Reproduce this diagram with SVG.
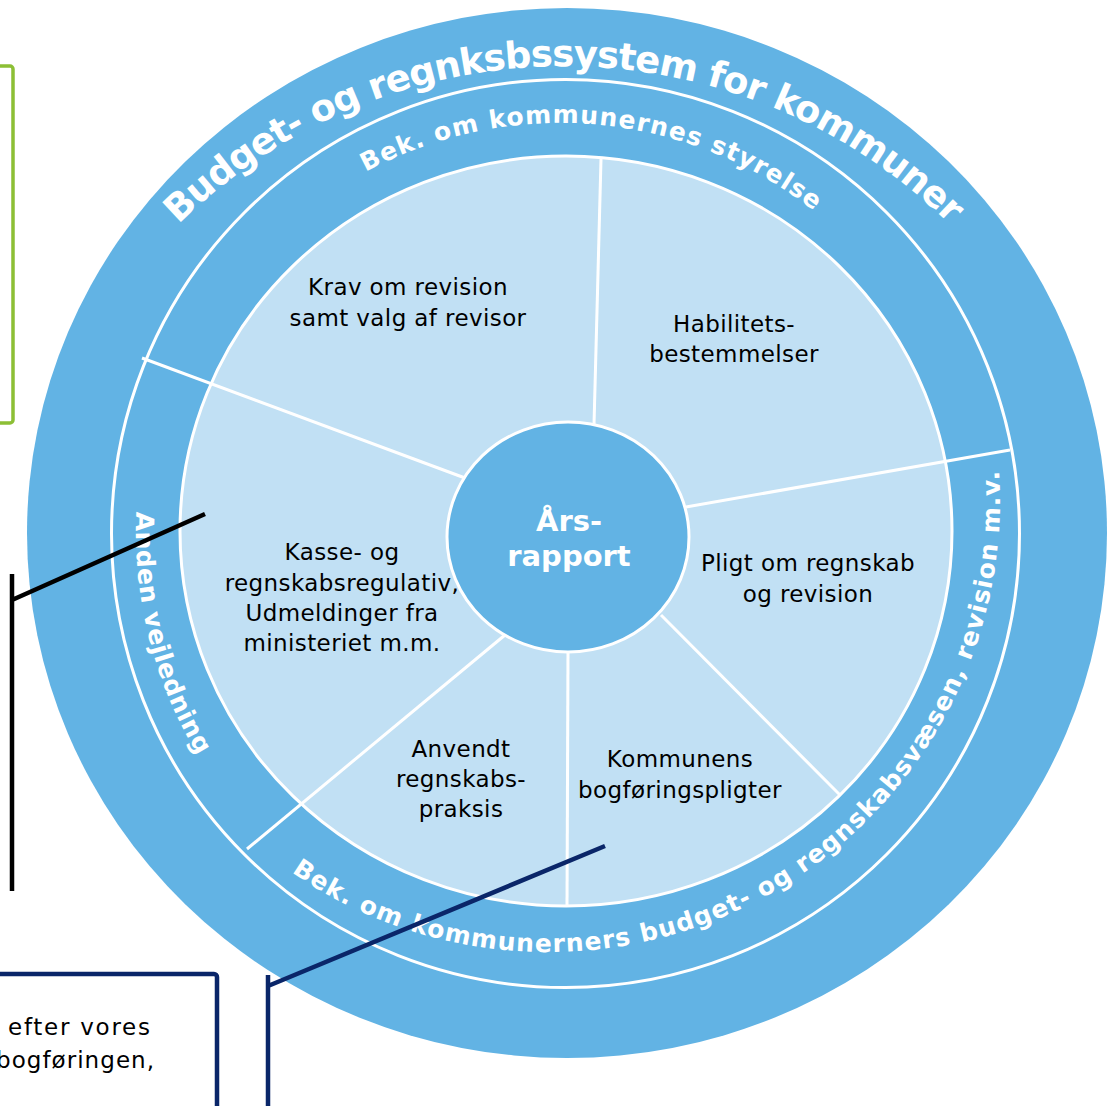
<svg xmlns="http://www.w3.org/2000/svg" width="1112" height="1106" viewBox="0 0 1112 1106">
<style>
.ring{fill:#62b3e4}
.wl{stroke:#fff;stroke-width:3;fill:none}
.lt{fill:#c1e0f4;stroke:#fff;stroke-width:3}
.st{font-family:"DejaVu Sans",Verdana,sans-serif;font-size:23px;letter-spacing:0.4px;fill:#000;text-anchor:middle}
.rt{font-family:"DejaVu Sans",Verdana,sans-serif;font-weight:bold;fill:#fff}
.cn{stroke-width:4.5;fill:none}
</style>
<defs>
<path id="pTitle" d="M 15 615 A 549 549 0 0 1 1113 615"/>
<path id="pTop" d="M 149 534 A 411 411 0 0 1 971 534"/>
<path id="pBottom" d="M 123.3 345.4 A 452 452 0 1 0 972.7 345.4"/>
<path id="pLeft" d="M 161.9 385.9 A 430 430 0 0 0 491.3 956.5"/>
</defs>
<rect width="1112" height="1106" fill="#fff"/>
<g id="wheel">
<ellipse class="ring" cx="567" cy="533" rx="540" ry="525"/>
<circle class="wl" cx="565.5" cy="533.5" r="454"/>
<ellipse class="lt" cx="566" cy="531" rx="386" ry="375"/>
<g class="wl">
<line x1="465" y1="478" x2="142" y2="358"/>
<line x1="594" y1="425" x2="601" y2="159"/>
<line x1="686" y1="507" x2="1010" y2="450"/>
<line x1="661" y1="615" x2="840" y2="795"/>
<line x1="568" y1="651" x2="567" y2="905"/>
<line x1="505" y1="635" x2="247" y2="849"/>
</g>
</g>
<g id="title">
<text class="rt" font-size="37" text-anchor="middle"><textPath href="#pTitle" startOffset="50%" textLength="855" lengthAdjust="spacing">Budget- og regnksbssystem for kommuner</textPath></text>
</g>
<g id="ring-styrelse">
<text class="rt" font-size="25" text-anchor="middle"><textPath href="#pTop" startOffset="681" textLength="476" lengthAdjust="spacing">Bek. om kommunernes styrelse</textPath></text>
</g>
<g id="ring-budget">
<text class="rt" font-size="25"><textPath href="#pBottom" startOffset="595" textLength="1012" lengthAdjust="spacing">Bek. om kommunerners budget- og regnskabsvæsen, revision m.v.</textPath></text>
</g>
<g id="ring-vejledning">
<text class="rt" font-size="25"><textPath href="#pLeft" startOffset="129" textLength="255" lengthAdjust="spacing">Anden vejledning</textPath></text>
</g>
<g id="sector-krav">
<text class="st" x="408" y="295">Krav om revision</text>
<text class="st" x="408" y="326">samt valg af revisor</text>
</g>
<g id="sector-habilitet">
<text class="st" x="734" y="332">Habilitets-</text>
<text class="st" x="734" y="362">bestemmelser</text>
</g>
<g id="sector-pligt">
<text class="st" x="808" y="571">Pligt om regnskab</text>
<text class="st" x="808" y="602">og revision</text>
</g>
<g id="sector-bogfoering">
<text class="st" x="680" y="767">Kommunens</text>
<text class="st" x="680" y="798">bogføringspligter</text>
</g>
<g id="sector-praksis">
<text class="st" x="461" y="757">Anvendt</text>
<text class="st" x="461" y="787">regnskabs-</text>
<text class="st" x="461" y="817">praksis</text>
</g>
<g id="sector-kasse">
<text class="st" x="342" y="560">Kasse- og</text>
<text class="st" x="342" y="591">regnskabsregulativ,</text>
<text class="st" x="342" y="621">Udmeldinger fra</text>
<text class="st" x="342" y="651">ministeriet m.m.</text>
</g>
<g id="center">
<ellipse cx="568" cy="537" rx="121" ry="115" fill="#62b3e4" stroke="#fff" stroke-width="3"/>
<text class="rt" font-size="29" x="569" y="531" text-anchor="middle">Års-</text>
<text class="rt" font-size="29" x="569" y="566" text-anchor="middle">rapport</text>
</g>
<g id="green-box">
<rect x="-20" y="66" width="33" height="357" rx="3" fill="none" stroke="#8cbf35" stroke-width="3.5"/>
</g>
<g id="navy-box">
<rect x="-20" y="974" width="237" height="200" rx="3" fill="none" stroke="#0a2669" stroke-width="4.5"/>
<text class="st" x="8" y="1035" font-size="25" style="text-anchor:start;letter-spacing:0" textLength="142" lengthAdjust="spacing">efter vores</text>
<text class="st" x="-4" y="1068" font-size="25" style="text-anchor:start;letter-spacing:0" textLength="158" lengthAdjust="spacing">bogføringen,</text>
</g>
<g id="connectors">
<path class="cn" stroke="#000" d="M12 574 V891 M12 600 L205 514"/>
<path class="cn" stroke="#0a2669" d="M268 975 V1110 M268 986 L605 846"/>
</g>
</svg>
